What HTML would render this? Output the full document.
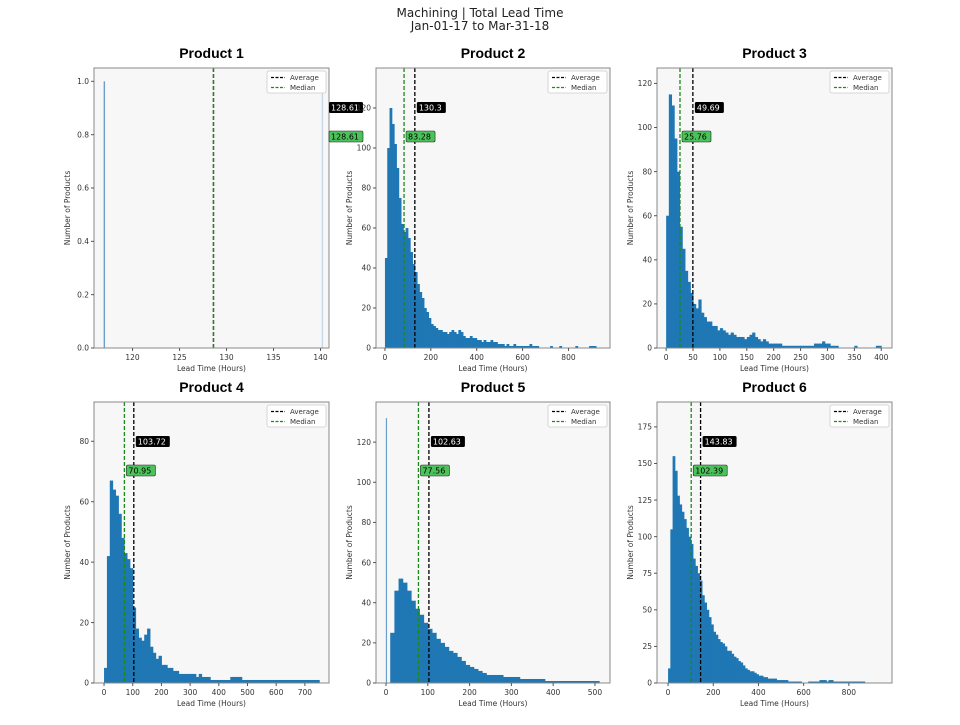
<!DOCTYPE html>
<html><head><meta charset="utf-8">
<style>
body{margin:0;background:#fff;width:960px;height:720px;overflow:hidden}
svg text{font-family:"DejaVu Sans","Liberation Sans",sans-serif}
</style></head>
<body>
<svg id="chart" width="960" height="720" xmlns="http://www.w3.org/2000/svg">
<text x="480" y="17" text-anchor="middle" font-size="12" fill="#222">Machining | Total Lead Time</text>
<text x="480" y="30" text-anchor="middle" font-size="12" fill="#222">Jan-01-17 to Mar-31-18</text>
</svg>
<script>
// ---- data ----
const productNames = ["Product 1","Product 2","Product 3","Product 4","Product 5","Product 6"];
const averages = [128.61, 130.3, 49.69, 103.72, 102.63, 143.83];
const medians = [128.61, 83.28, 25.76, 70.95, 77.56, 102.39];
const p1BarX = [117, 140.2];
const p1BarY = [1, 1];
const p2Counts = [45,100,120,112,102,90,75,62,58,60,55,48,42,38,32,28,25,20,18,15,
12,11,10,9,9,8,8,7,8,9, 8,7,9,8,6,5,5,6,5,5, 4,4,3,4,3,3,4,3,3,2, 2,2,1,2,1,1,2,1,1,1,
1,1,1,2,1,1,1,0,0,0, 0,0,1,0,0,0,1,0,0,0, 0,0,0,1,0,0,0,0,0,1, 1,1,0];
const p3Counts = [60,115,110,95,80,55,45,35,30,25,20,18,22,16,14,12,12,10,10,8,
9,8,7,6,7,6,5,5,5,4, 5,6,7,5,4,3,4,3,2,2, 2,2,2,1,1,1,1,1,1,1, 1,1,1,1,1,2,2,2,3,2,
2,1,1,1,0,0,0,0,0,0, 1,0,0,0,0,0,0,0,1,1];
const p4Counts = [5,42,67,64,62,56,48,43,41,38,25,18,15,14,16,18,12,10,8,9,
6,6,5,5,4,4,3,3,3,3, 3,3,2,3,2,2,2,1,1,1, 1,1,1,1,2,2,2,2,1,1, 1,1,1,1,1,1,1,1,1,1,
1,1,1,1,1,1,1,1,1,1, 1,1,1,1,1];
const p5Counts = [0,25,46,52,50,46,41,37,34,30,27,25,22,20,18,16,15,13,11,9,
8,7,6,5,4,4,4,4,3,3, 3,3,2,2,2,2,2,2,1,1, 1,1,1,1,1,1,1,1,1,1, 1];
const p5SpikeX = [1];
const p5SpikeY = [132];
const p6Counts = [10,105,155,145,128,122,117,112,106,100,95,85,80,75,70,60,55,50,45,40,
35,33,30,28,27,25,22,22,20,18, 17,15,14,12,10,9,8,8,7,6, 5,5,4,4,3,3,3,3,2,2,
2,2,2,1,1,1,1,1,1,0, 0,0,1,1,1,1,1,2,2,2, 1,2,2,1,1,1,1,1,1,1, 1,1,1,1,1,1,1,0,0,0, 0,0];
const xTicks = [[120,125,130,135,140],[0,200,400,600,800],[0,50,100,150,200,250,300,350,400],
[0,100,200,300,400,500,600,700],[0,100,200,300,400,500],[0,200,400,600,800]];
const yTicks = [[0,0.2,0.4,0.6,0.8,1.0],[0,20,40,60,80,100,120],[0,20,40,60,80,100,120],
[0,20,40,60,80],[0,20,40,60,80,100,120],[0,25,50,75,100,125,150,175]];

// ---- layout ----
const NS="http://www.w3.org/2000/svg";
const svg=document.getElementById('chart');
function mk(tag,attrs,parent){const e=document.createElementNS(NS,tag);for(const k in attrs)e.setAttribute(k,attrs[k]);(parent||svg).appendChild(e);return e;}
const panels=[
 {x:94,y:68,w:235,h:280,xlim:[115.9,140.9],ylim:[0,1.05],lab:329,yfmt:v=>v.toFixed(1)},
 {x:376,y:68,w:234,h:280,xlim:[-39,981],ylim:[0,140],counts:p2Counts,bw:10},
 {x:657,y:68,w:235,h:280,xlim:[-17,420],ylim:[0,127],counts:p3Counts,bw:5},
 {x:94,y:402,w:235,h:281,xlim:[-35,784],ylim:[0,93],counts:p4Counts,bw:10},
 {x:376,y:402,w:234,h:281,xlim:[-24,536],ylim:[0,140],counts:p5Counts,bw:10,spike:true},
 {x:657,y:402,w:235,h:281,xlim:[-49,991],ylim:[0,192],counts:p6Counts,bw:10}
];
panels.forEach((p,i)=>{
 const g=mk('g',{});
 
 
 const sx=v=>p.x+(v-p.xlim[0])/(p.xlim[1]-p.xlim[0])*p.w;
 const sy=v=>p.y+p.h-(v-p.ylim[0])/(p.ylim[1]-p.ylim[0])*p.h;
 const bg=mk('rect',{x:p.x,y:p.y,width:p.w,height:p.h,fill:'#f7f7f7'},g);
 
 
 if(p.counts){
  p.counts.forEach((c,k)=>{
   if(c<=0)return;
   const x0=sx(k*p.bw),x1=sx((k+1)*p.bw);
   const r=mk('rect',{x:x0,y:sy(c),width:Math.max(0.5,x1-x0)+0.5,height:sy(0)-sy(c),fill:'#1f77b4'},g);
   
   
  });
 } else {
  p1BarX.forEach((bx,k)=>{
   const r=mk('rect',{x:sx(bx)-0.7,y:sy(p1BarY[k]),width:1.4,height:sy(0)-sy(p1BarY[k]),fill:k==0?'#6a9fcb':'#c5d8e8'},g);
   
   
  });
 }
 if(p.spike){
  p5SpikeX.forEach((bx,k)=>{
   const r=mk('rect',{x:sx(bx)-0.6,y:sy(p5SpikeY[k]),width:1.2,height:sy(0)-sy(p5SpikeY[k]),fill:'#6a9fcb'},g);
   
   
  });
 }
 const ax=sx(averages[i]),mx=sx(medians[i]);
 const al=mk('line',{x1:ax,x2:ax,y1:p.y,y2:p.y+p.h,stroke:'#000','stroke-width':1.3,'stroke-dasharray':'4,2'},g);
 
 
 const ml=mk('line',{x1:mx,x2:mx,y1:p.y,y2:p.y+p.h,stroke:'#1a8a1a','stroke-width':1.3,'stroke-dasharray':'4,2'},g);
 
 
 const sp=mk('rect',{x:p.x,y:p.y,width:p.w,height:p.h,fill:'none',stroke:'#888','stroke-width':1},g);
 
 
 xTicks[i].forEach(t=>{
  const X=sx(t);
  mk('line',{x1:X,x2:X,y1:p.y+p.h,y2:p.y+p.h+3,stroke:'#555'},g);
  const tx=mk('text',{x:X,y:p.y+p.h+12,'text-anchor':'middle','font-size':7.5,fill:'#333'},g);
  tx.textContent=t;
  
  
 });
 yTicks[i].forEach(t=>{
  const Y=sy(t);
  mk('line',{x1:p.x-3,x2:p.x,y1:Y,y2:Y,stroke:'#555'},g);
  const ty=mk('text',{x:p.x-5,y:Y+2.7,'text-anchor':'end','font-size':7.5,fill:'#333'},g);
  ty.textContent=p.yfmt?p.yfmt(t):t;
  
  
 });
 const xl=mk('text',{x:p.x+p.w/2,y:p.y+p.h+23,'text-anchor':'middle','font-size':7.5,fill:'#333'},g);
 xl.textContent='Lead Time (Hours)';
 
 
 const yx=p.x-24,yy=p.y+p.h/2;
 const yl=mk('text',{x:yx,y:yy,'text-anchor':'middle','font-size':7.5,fill:'#333',transform:`rotate(-90 ${yx} ${yy})`},g);
 yl.textContent='Number of Products';
 
 
 const tt=mk('text',{x:p.x+p.w/2,y:p.y-10,'text-anchor':'middle','font-size':14,'font-weight':'bold',fill:'#000',style:'font-family:"Liberation Sans",sans-serif'},g);
 tt.textContent=productNames[i];
 
 
 const lx1=p.lab!==undefined?p.lab:ax+2, lx2=p.lab!==undefined?p.lab:mx+2;
 const aTxt=String(averages[i]), mTxt=String(medians[i]);
 const aw=aTxt.length*5+4, mw=mTxt.length*5+4;
 const ab=mk('rect',{x:lx1,y:p.y+34,width:aw,height:11,rx:1.5,fill:'#000'},g);
 
 
 const at=mk('text',{x:lx1+2,y:p.y+42.5,'font-size':8,fill:'#fff'},g);
 at.textContent=aTxt;
 
 
 const mb=mk('rect',{x:lx2,y:p.y+63,width:mw,height:11,rx:1.5,fill:'#4cc35a',stroke:'#222','stroke-width':0.6},g);
 
 
 const mt=mk('text',{x:lx2+2,y:p.y+71.5,'font-size':8,fill:'#000'},g);
 mt.textContent=mTxt;
 
 
 const lg=mk('g',{},g);
 
 
 const lxx=p.x+p.w-62,lyy=p.y+3;
 mk('rect',{x:lxx,y:lyy,width:59,height:22,fill:'#fff',stroke:'#ccc','stroke-width':0.8,rx:2},lg);
 mk('line',{x1:lxx+4,x2:lxx+18,y1:lyy+6.5,y2:lyy+6.5,stroke:'#000','stroke-width':1.3,'stroke-dasharray':'3,1.5'},lg);
 mk('line',{x1:lxx+4,x2:lxx+18,y1:lyy+16.5,y2:lyy+16.5,stroke:'#1a8a1a','stroke-width':1.3,'stroke-dasharray':'3,1.5'},lg);
 const le1=mk('text',{x:lxx+23,y:lyy+9,'font-size':7,fill:'#333'},lg);
 le1.textContent='Average';
 
 
 const le2=mk('text',{x:lxx+23,y:lyy+19,'font-size':7,fill:'#333'},lg);
 le2.textContent='Median';
 
 
});
</script>
</body></html>
